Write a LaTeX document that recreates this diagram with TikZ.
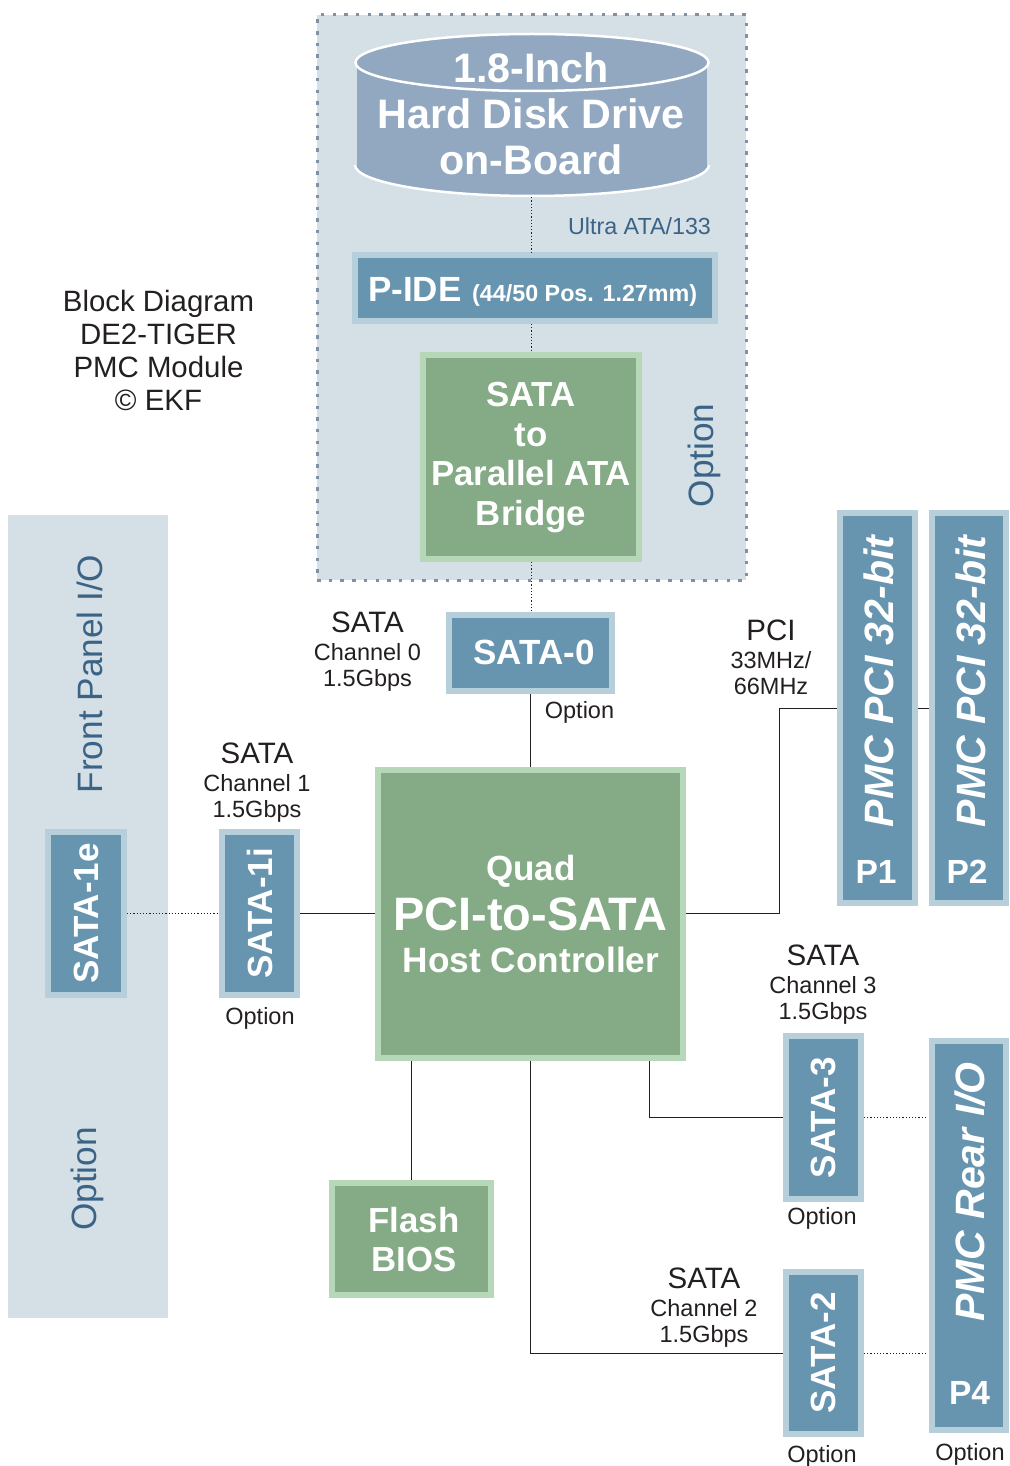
\documentclass[tikz,border=0pt]{standalone}
\usepackage{fontspec}
\setmainfont{Liberation Sans}
\usetikzlibrary{positioning}
\definecolor{panelblue}{HTML}{D4DFE6}
\definecolor{panelline}{HTML}{7F92A5}
\definecolor{paneltext}{HTML}{3B6385}
\definecolor{diskblue}{HTML}{91A8C0}
\definecolor{portblue}{HTML}{6795B0}
\definecolor{portedge}{HTML}{B7CEDB}
\definecolor{chipgreen}{HTML}{84AB85}
\definecolor{chipedge}{HTML}{B7D8B8}
\definecolor{inktext}{HTML}{231F20}
\newcommand{\satahead}{\fontsize{29.5}{33}\selectfont}

\begin{document}
\begin{tikzpicture}[
			x=1pt, y=-1pt,
			panel/.style={fill=panelblue, inner sep=0pt, outer sep=0pt},
			port/.style={draw=portedge, fill=portblue, line width=6pt, text=white, inner sep=0pt, align=center, font=\bfseries\fontsize{35}{38}\selectfont},
			chip/.style={draw=chipedge, fill=chipgreen, line width=6pt, inner sep=0pt},
			chiptext/.style={text=white, inner sep=0pt, align=center, font=\bfseries\fontsize{34.8}{39.5}\selectfont},
			pmctext/.style={text=white, inner sep=0pt, rotate=90, font=\bfseries\itshape\fontsize{41}{46}\selectfont},
			pintext/.style={text=white, inner sep=0pt, font=\bfseries\fontsize{33.5}{38}\selectfont},
			note/.style={text=inktext, inner sep=0pt, align=center, font=\fontsize{23.5}{26}\selectfont},
			bluenote/.style={text=paneltext, inner sep=0pt, font=\fontsize{35.2}{40}\selectfont},
			solidline/.style={draw=inktext, line width=1pt},
			dotline/.style={draw=inktext, line width=0.9pt, dash pattern=on 1.2pt off 2pt}
			]
			\useasboundingbox (0,0) rectangle (1009,1466);

			% Panels
			\node[panel, minimum width=160pt, minimum height=803pt] (frontpanel) at (88,916.5) {};
			\node[panel, draw=panelline, line width=3pt, dash pattern=on 3.5pt off 8.2pt, minimum width=429pt, minimum height=565pt] (optionpanel) at (531.5,297.5) {};
			\node[bluenote, rotate=90] (frontlabel) at (90,674) {Front Panel I/O};
			\node[bluenote, rotate=90] (frontoption) at (87.5,1179) {Option};
			\node[bluenote, rotate=90] (topoption) at (704.5,455.5) {Option};

			% Hard disk
			\draw[white, line width=2.5pt, fill=diskblue] (355,165) arc[start angle=180, end angle=0, x radius=177, y radius=31];
			\fill[diskblue] (357,62) rectangle (707,166);
			\draw[white, line width=2.5pt, fill=diskblue] (532,62.5) ellipse[x radius=176.5, y radius=28.5];
			\node[text=white, inner sep=0pt, align=center, minimum width=354pt, minimum height=166pt, font=\bfseries\fontsize{41.2}{46}\selectfont] (disk) at (531,114) {1.8-Inch\\Hard Disk Drive\\on-Board};

			% Ports and chips
			\node[port, minimum width=360pt, minimum height=66pt] (pide) at (535,288) {};
			\node[text=white, inner sep=0pt, anchor=base west, font=\bfseries\fontsize{35}{40}\selectfont] (pidename) at (368,301) {P-IDE};
			\node[text=white, inner sep=0pt, anchor=base west, font=\bfseries\fontsize{23.3}{27}\selectfont] (pidepins) at (472,301) {(44/50 Pos. 1.27mm)};
			\node[chip, minimum width=216pt, minimum height=204pt] (bridge) at (531,457) {};
			\node[chiptext] (bridgetext) at (531,457.5) {SATA\\to\\Parallel ATA\\Bridge};
			\node[port, minimum width=163pt, minimum height=76pt] (satazero) at (530.5,653) {};
			\node[text=white, inner sep=0pt, font=\bfseries\fontsize{35}{38}\selectfont] (satazerotext) at (534,652) {SATA-0};
			\node[chip, minimum width=305pt, minimum height=288pt] (controller) at (530.5,914) {};
			\node[text=white, inner sep=0pt, align=center, font=\bfseries\fontsize{35}{40}\selectfont] (quad) at (531,871) {Quad};
			\node[text=white, inner sep=0pt, align=center, font=\bfseries\fontsize{46.9}{50}\selectfont] (pcitosata) at (530.5,914) {PCI-to-SATA};
			\node[text=white, inner sep=0pt, align=center, font=\bfseries\fontsize{35.2}{40}\selectfont] (hostctrl) at (531,960) {Host Controller};
			\node[chip, minimum width=159pt, minimum height=112pt] (flash) at (411.5,1239) {};
			\node[chiptext] (flashtext) at (414,1239.5) {Flash\\BIOS};
			\node[port, rotate=90, minimum width=163pt, minimum height=76pt] (sataonee) at (86,913.5) {SATA-1e};
			\node[port, rotate=90, minimum width=163pt, minimum height=75pt] (sataonei) at (259.5,913.5) {SATA-1i};
			\node[port, rotate=90, minimum width=163pt, minimum height=75pt] (satathree) at (823.5,1117.5) {SATA-3};
			\node[port, rotate=90, minimum width=162pt, minimum height=75pt] (satatwo) at (823.5,1353) {SATA-2};

			% PMC connectors
			\node[port, minimum width=75pt, minimum height=390pt] (pmcone) at (877.5,708) {};
			\node[pmctext] (pmconetext) at (879,681.5) {PMC PCI 32-bit};
			\node[pintext] (pmconepin) at (876,872) {P1};
			\node[port, minimum width=74pt, minimum height=390pt] (pmctwo) at (969,708) {};
			\node[pmctext] (pmctwotext) at (971,681.5) {PMC PCI 32-bit};
			\node[pintext] (pmctwopin) at (967,872) {P2};
			\node[port, minimum width=74pt, minimum height=389pt] (pmcrear) at (969,1235.5) {};
			\node[pmctext] (pmcreartext) at (970.5,1192) {PMC Rear I/O};
			\node[pintext] (pmcrearpin) at (969.5,1393) {P4};

			% Labels
			\node[text=inktext, inner sep=0pt, align=center, font=\fontsize{29.4}{33}\selectfont] (title) at (158.5,350) {Block Diagram\\DE2-TIGER\\PMC Module\\© EKF};
			\node[text=paneltext, inner sep=0pt, font=\fontsize{23.3}{27}\selectfont] (ultralabel) at (639.5,226) {Ultra ATA/133};
			\node[note] (zerolabel) at (367.5,651.5) {{\satahead SATA}\\[2pt]Channel 0\\1.5Gbps};
			\node[note] (onelabel) at (257,782.5) {{\satahead SATA}\\[2pt]Channel 1\\1.5Gbps};
			\node[note] (threelabel) at (823,985) {{\satahead SATA}\\[2pt]Channel 3\\1.5Gbps};
			\node[note] (twolabel) at (704,1307.5) {{\satahead SATA}\\[2pt]Channel 2\\1.5Gbps};
			\node[note] (pcilabel) at (771,657.5) {{\satahead PCI}\\[2pt]33MHz/\\66MHz};
			\node[note] (zerooption) at (579.5,712) {Option};
			\node[note] (oneoption) at (260,1018) {Option};
			\node[note] (threeoption) at (822,1218) {Option};
			\node[note] (twooption) at (822,1456) {Option};
			\node[note] (rearoption) at (970,1454) {Option};

			% Connectors
			\coordinate (pcibend) at (779.5,913);
			\coordinate (threestart) at (649.5,1061);
			\draw[dotline] (disk.south) -- (disk.south |- pide.north);
			\draw[dotline] (bridge.north |- pide.south) -- (bridge.north);
			\draw[dotline] (bridge.south) -- (bridge.south |- satazero.north);
			\draw[solidline] (satazero.south) -- (controller.north);
			\draw[dotline] (sataonee) -- (sataonei);
			\draw[solidline] (sataonei) -- (sataonei -| controller.west);
			\draw[solidline] (controller.east |- pcibend) -- (pcibend) |- (pmcone.west |- 0,708);
			\draw[solidline] (pmcone.east) -- (pmctwo.west);
			\draw[solidline] (flash) -- (flash |- controller.south);
			\draw[solidline] (threestart) |- (satathree);
			\draw[solidline] (controller.south) |- (satatwo);
			\draw[dotline] (satathree) -- (satathree -| 927,0);
			\draw[dotline] (satatwo) -- (satatwo -| 927,0);
		\end{tikzpicture}
\end{document}
